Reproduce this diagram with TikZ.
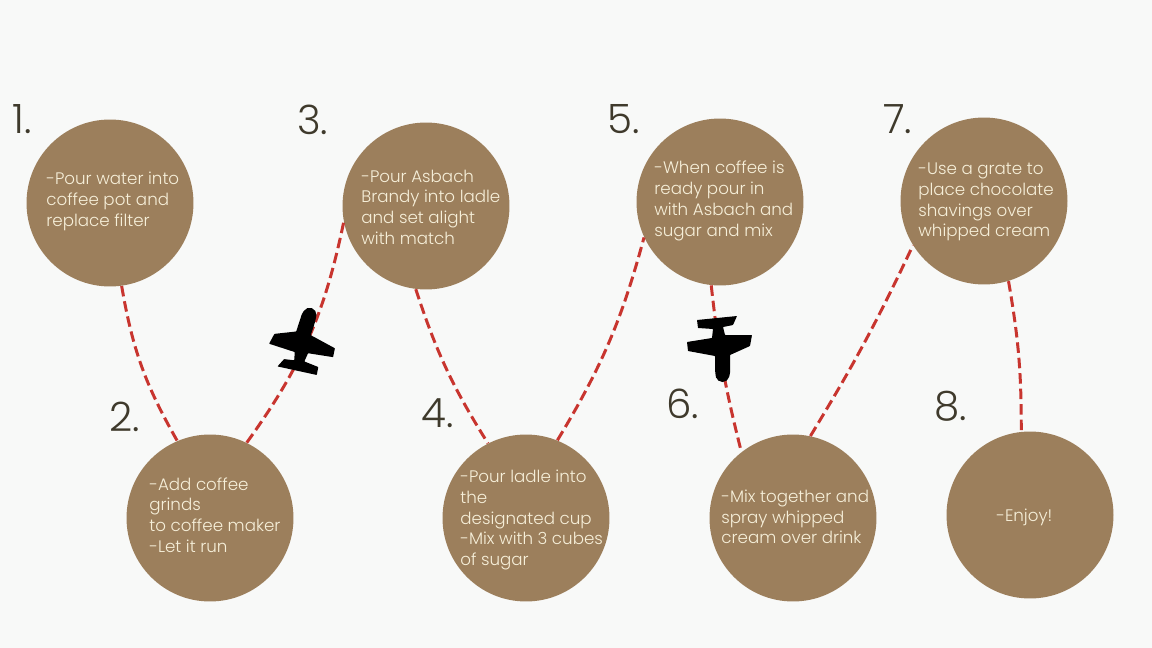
\documentclass[tikz,border=0pt]{standalone}
\usepackage{fontspec}
\setmainfont{Poppins Light}
\definecolor{paper}{HTML}{F8F9F8}
\definecolor{stepbrown}{HTML}{9C7F5C}
\definecolor{stepcream}{HTML}{F6EFD9}
\definecolor{numdark}{HTML}{3F3A2C}
\definecolor{pathred}{HTML}{C8352F}
\tikzset{
  stepdot/.style={circle, fill=stepbrown, minimum size=3.34cm, inner sep=0pt},
  steptext/.style={anchor=west, align=left, text=stepcream, inner sep=0pt, font=\fontsize{9.5}{11.8}\selectfont},
  stepnum/.style={anchor=west, text=numdark, inner sep=0pt, font=\fontsize{23}{24}\selectfont},
  route/.style={draw=pathred, line width=1.7pt, dash pattern=on 6pt off 2.8pt},
  plane/.pic={\fill[black, rounded corners=0.3pt] (-23,-23)--(17,-27)--(13,-18)--(3,-16)--(5,-8)--(32,-8)--(30,3)--(10,12)--(10,30)
    [rounded corners=3pt] --(8,39)--(-3,39)--(-5,30) [rounded corners=0.3pt] --(-5,13)--(-32,8)--(-33,-1)--(-8,-5)--(-7,-14)--(-22,-15)--cycle;}
}
\begin{document}
\begin{tikzpicture}[x=0.02cm, y=-0.02cm]
  \fill[paper] (0,0) rectangle (1152,648);
  \useasboundingbox (0,0) rectangle (1152,648);
  \node[stepdot] (c1) at (110,203) {};
  \node[stepdot] (c2) at (210,518) {};
  \node[stepdot] (c3) at (426,206) {};
  \node[stepdot] (c4) at (526,518) {};
  \node[stepdot] (c5) at (720,202) {};
  \node[stepdot] (c6) at (793,518) {};
  \node[stepdot] (c7) at (984,201) {};
  \node[stepdot] (c8) at (1030,515) {};
  \node[steptext] (t1) at (46,201.5) {-Pour water into\\coffee pot and\\replace filter};
  \node[steptext] (t2) at (149,515) {-Add coffee\\grinds\\to coffee maker\\-Let it run};
  \node[steptext] (t3) at (361,207) {-Pour Asbach\\Brandy into ladle\\and set alight\\with match};
  \node[steptext] (t4) at (460,520) {-Pour ladle into\\the\\designated cup\\-Mix with 3 cubes\\of sugar};
  \node[steptext] (t5) at (654,201) {-When coffee is\\ready pour in\\with Asbach and\\sugar and mix};
  \node[steptext] (t6) at (721,517) {-Mix together and\\spray whipped\\cream over drink};
  \node[steptext] (t7) at (918,202) {-Use a grate to\\place chocolate\\shavings over\\whipped cream};
  \node[steptext] (t8) at (996,517) {-Enjoy!};
  \foreach \x/\y/\i in {12/119/1, 109/417/2, 297/120/3, 421/413/4, 607/119/5, 666/404/6, 883/119/7, 934/406/8}
    \node[stepnum] (n\i) at (\x,\y) {\i.};
  \draw[route] (c1.-82) to[bend right=10] (c2.113);
  \draw[route] (c2.64) to[bend right=12] (c3.191);
  \draw[route] (c3.-97) to[bend right=7] (c4.117);
  \draw[route] (c4.68) to[bend right=8] (c5.205);
  \draw[route] (c5.-96) to[bend right=4] (c6.128);
  \draw[route] (c6.78) to[bend right=3] (c7.212);
  \draw[route] (c7.-73) to[bend left=5] (c8.96);
  \pic[rotate=162] at (302,346) {plane};
  \pic at (720,343) {plane};
\end{tikzpicture}
\end{document}
